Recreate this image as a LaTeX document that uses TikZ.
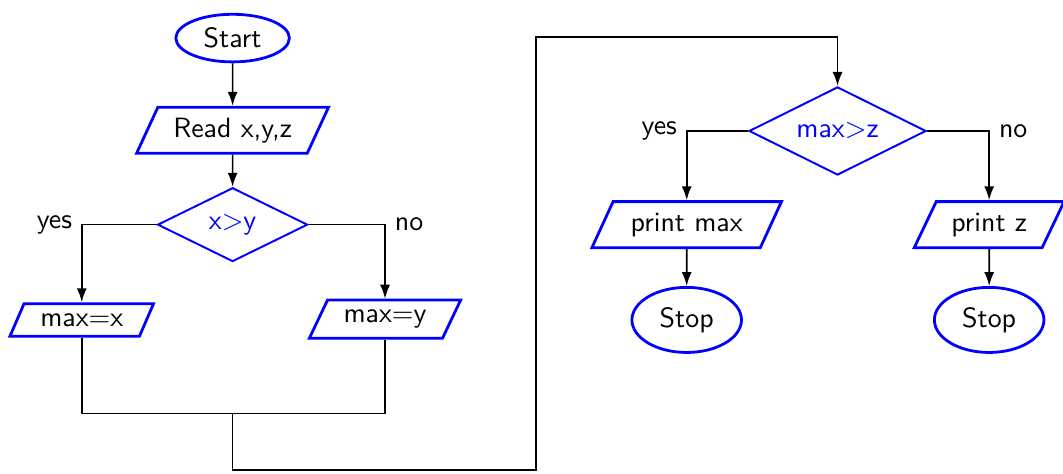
\documentclass[tikz,border=0pt]{standalone}
\usetikzlibrary{shapes.geometric, arrows.meta}

\begin{document}
\begin{tikzpicture}[>={Latex[length=5pt, width=3.6pt]}, font=\sffamily,
    term/.style={ellipse, draw=blue, line width=1pt, inner sep=1pt},
    io/.style={trapezium, trapezium left angle=60, trapezium right angle=120,
               trapezium stretches=true, draw=blue, line width=1pt, inner sep=1pt},
    cond/.style={diamond, aspect=2, draw=blue, text=blue, line width=0.7pt, inner sep=0pt},
    flow/.style={line width=0.6pt}]
    \useasboundingbox (0,0) rectangle (13.39,-5.96);

    % 左侧：读入并比较 x, y
    \node[term, minimum width=1.43cm, minimum height=0.6cm] (start) at (2.93,-0.48) {Start};
    \node[io, minimum width=2.43cm, minimum height=0.58cm] (read) at (2.93,-1.64) {Read x,y,z};
    \node[cond, minimum width=1.89cm, minimum height=0.93cm] (d1) at (2.93,-2.83) {x$>$y};
    \node[io, minimum width=1.81cm, minimum height=0.41cm] (mx) at (1.03,-4.03) {max$=$x};
    \node[io, minimum width=1.91cm, minimum height=0.48cm] (my) at (4.85,-4.02) {max$=$y};

    % 右侧：比较 max, z 并输出
    \node[cond, minimum width=2.23cm, minimum height=1.11cm] (d2) at (10.55,-1.65) {max$>$z};
    \node[io, minimum width=2.39cm, minimum height=0.58cm] (pm) at (8.65,-2.83) {print max};
    \node[io, minimum width=1.89cm, minimum height=0.58cm] (pz) at (12.46,-2.83) {print z};
    \node[term, minimum width=1.38cm, minimum height=0.82cm] (stop1) at (8.65,-4.03) {Stop};
    \node[term, minimum width=1.38cm, minimum height=0.82cm] (stop2) at (12.46,-4.03) {Stop};

    % 汇合点和回路拐点
    \coordinate (j) at (2.93,-5.21);
    \coordinate (lo) at (6.75,-5.92);
    \coordinate (hi) at (6.75,-0.47);

    \draw[flow, ->] (start) -- (read);
    \draw[flow, ->] (read) -- (d1);
    \draw[flow, ->] (d1.west) -| (mx) coordinate[pos=0.5] (c1);
    \draw[flow, ->] (d1.east) -| (my) coordinate[pos=0.5] (c2);
    \node[anchor=east] (y1) at (c1) {yes};
    \node[anchor=west] (n1) at (c2) {no};
    \draw[flow] (mx) |- (j) -| (my);
    \draw[flow, ->] (j) |- (lo) -- (hi) -| (d2);

    \draw[flow, ->] (d2.west) -| (pm) coordinate[pos=0.5] (c3);
    \draw[flow, ->] (d2.east) -| (pz) coordinate[pos=0.5] (c4);
    \node[anchor=east] (y2) at (c3) {yes};
    \node[anchor=west] (n2) at (c4) {no};
    \draw[flow, ->] (pm) -- (stop1);
    \draw[flow, ->] (pz) -- (stop2);
\end{tikzpicture}
\end{document}
